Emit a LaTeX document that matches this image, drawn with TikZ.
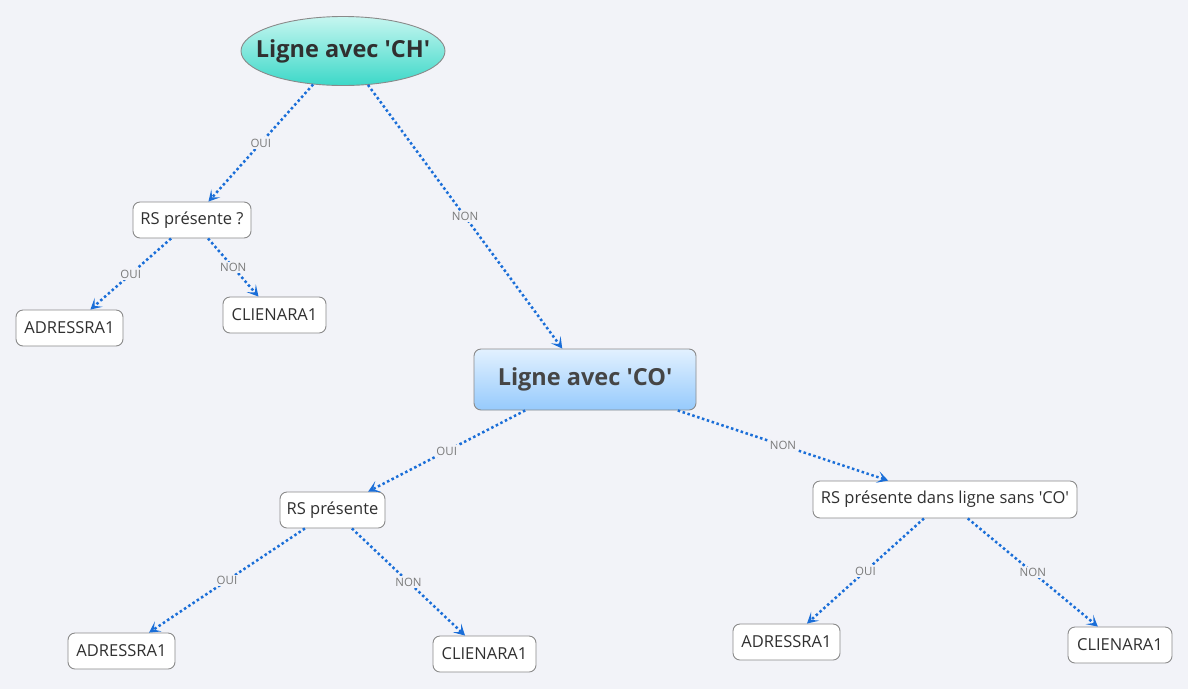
\documentclass[tikz,border=0pt]{standalone}
\usepackage{fontspec}
\setmainfont{Open Sans}
\usetikzlibrary{arrows.meta,shapes.geometric,shadings}
\definecolor{bg}{HTML}{F2F3F8}
\definecolor{edgeblue}{HTML}{1A6ED8}
\definecolor{bordergray}{HTML}{8A8A8A}
\definecolor{txt}{HTML}{303030}
\definecolor{lbl}{HTML}{7A7A7A}
\definecolor{tealtop}{HTML}{C6F6F0}
\definecolor{tealbot}{HTML}{3CD8C8}
\definecolor{bluetop}{HTML}{E2F1FF}
\definecolor{bluebot}{HTML}{96CAFC}
\newcommand{\sq}{\textquotesingle}
\tikzset{
  leaf/.style={draw=bordergray, line width=0.9pt, fill=white, rounded corners=7pt,
    inner sep=0pt, minimum height=36pt, text=txt, font=\fontsize{16.5}{19}\selectfont},
  conn/.style={draw=edgeblue, line width=2.5pt, dash pattern=on 2.5pt off 2.6pt,
    -{Stealth[length=11pt,width=12pt,inset=5.5pt]}},
  elbl/.style={fill=bg, inner sep=1.5pt, text=lbl, font=\fontsize{11.5}{13}\selectfont},
  title/.style={draw=bordergray, line width=0.9pt, inner sep=0pt, text=txt,
    font=\fontsize{23.5}{26}\selectfont\bfseries},
}
\begin{document}
\begin{tikzpicture}[x=1pt,y=-1pt]
\useasboundingbox[fill=bg] (0,0) rectangle (1188,689);
\node[title, ellipse, top color=tealtop, bottom color=tealbot,
  minimum width=204pt, minimum height=69pt] (ch) at (343,51) {\makebox[0pt]{Ligne avec \sq CH\sq}};
\node[title, rounded corners=7pt, top color=bluetop, bottom color=bluebot,
  minimum width=222pt, minimum height=61pt, text=txt!90] (co) at (585,379.5) {\makebox[0pt]{Ligne avec \sq CO\sq}};
\node[leaf, minimum width=118pt] (rs1) at (192,220) {\makebox[0pt]{RS présente ?}};
\node[leaf, minimum width=107pt] (ad1) at (69.5,328) {\makebox[0pt]{ADRESSRA1}};
\node[leaf, minimum width=103pt] (cl1) at (274.5,315) {\makebox[0pt]{CLIENARA1}};
\node[leaf, minimum width=105pt] (rs2) at (332.5,510) {\makebox[0pt]{RS présente}};
\node[leaf, minimum width=264pt, minimum height=37pt] (rs3) at (945,499.5) {\makebox[0pt]{RS présente dans ligne sans \sq CO\sq}};
\node[leaf, minimum width=107pt] (ad2) at (121.5,651) {\makebox[0pt]{ADRESSRA1}};
\node[leaf, minimum width=103pt] (cl2) at (484.5,654) {\makebox[0pt]{CLIENARA1}};
\node[leaf, minimum width=107pt] (ad3) at (786.5,642) {\makebox[0pt]{ADRESSRA1}};
\node[leaf, minimum width=104pt] (cl3) at (1120,645) {\makebox[0pt]{CLIENARA1}};
\draw[conn] (ch) -- node[elbl]{OUI} (rs1);
\draw[conn] (ch) -- node[elbl]{NON} (co);
\draw[conn] (rs1) -- node[elbl]{OUI} (ad1);
\draw[conn] (rs1) -- node[elbl]{NON} (cl1);
\draw[conn] (co) -- node[elbl]{OUI} (rs2);
\draw[conn] (co) -- node[elbl]{NON} (rs3);
\draw[conn] (rs2) -- node[elbl]{OUI} (ad2);
\draw[conn] (rs2) -- node[elbl]{NON} (cl2);
\draw[conn] (rs3) -- node[elbl]{OUI} (ad3);
\draw[conn] (rs3) -- node[elbl]{NON} (cl3);
\end{tikzpicture}
\end{document}
